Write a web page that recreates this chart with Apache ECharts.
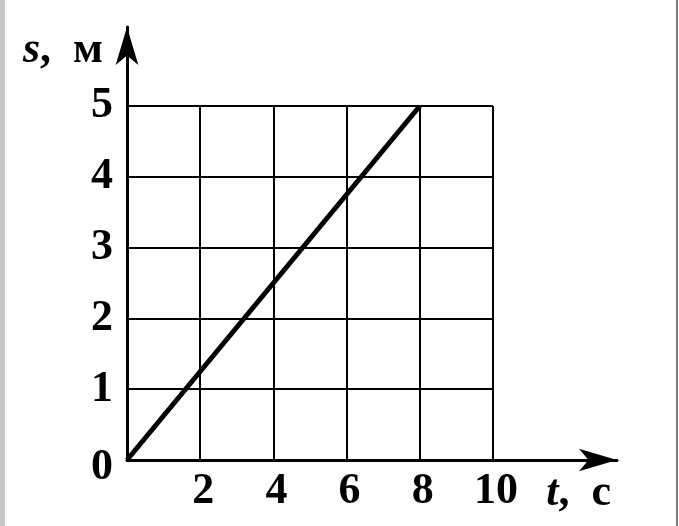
<!DOCTYPE html>
<html>
<head>
<meta charset="utf-8">
<script src="https://cdn.jsdelivr.net/npm/echarts@6/dist/echarts.min.js"></script>
<style>
html,body{margin:0;padding:0;background:#fff;}
#wrap{position:relative;width:679px;height:526px;}
#c{position:absolute;left:0;top:0;width:679px;height:526px;}
#lb{position:absolute;left:0;top:0;width:5px;height:526px;background:#c8c4c8;}
#rb{position:absolute;left:676px;top:0;width:2px;height:526px;background:#7a7a7a;}
</style>
</head>
<body>
<div id="wrap"><div id="c"></div><div id="lb"></div><div id="rb"></div></div>
<script>
// time, s
const tValues = [0, 8];
// distance, m
const sValues = [0, 5];
const xTickMax = 10, xTickStep = 2;
const yTickMax = 5, yTickStep = 1;

const FONT = '"Liberation Serif", "DejaVu Serif", serif';
const FS = 44;
const chart = echarts.init(document.getElementById('c'), null, {renderer: 'canvas'});

const txt = (extra) => Object.assign({fontFamily: FONT, fontWeight: 'bold', fontSize: FS, color: '#000'}, extra || {});

const option = {
  backgroundColor: '#fff',
  animation: false,
  grid: [
    {left: 127, right: 186, top: 106, bottom: 66},
    {left: 127, right: 62, top: 27, bottom: 66}
  ],
  xAxis: [
    {
      gridIndex: 0, type: 'value', min: 0, max: xTickMax, interval: xTickStep,
      axisLine: {show: false}, axisTick: {show: false},
      splitLine: {show: true, lineStyle: {color: '#000', width: 2}},
      axisLabel: Object.assign(txt({margin: 10, padding: [0, 0, 0, 6]}), {
        formatter: v => v === 0 ? '' : String(v)
      })
    },
    {
      gridIndex: 1, type: 'value', min: 0, max: 1,
      axisLine: {show: true, lineStyle: {color: '#000', width: 3}, symbol: ['none', 'arrow'], symbolSize: [17, 38]},
      axisTick: {show: false}, axisLabel: {show: false}, splitLine: {show: false},
      name: '{i|t}{n|,  с}', nameLocation: 'end', nameGap: -6,
      nameTextStyle: {
        align: 'right', verticalAlign: 'top', padding: [12, 0, 0, 0],
        rich: {i: txt({fontStyle: 'italic'}), n: txt()}
      }
    }
  ],
  yAxis: [
    {
      gridIndex: 0, type: 'value', min: 0, max: yTickMax, interval: yTickStep,
      axisLine: {show: false}, axisTick: {show: false},
      splitLine: {show: true, lineStyle: {color: '#000', width: 2}},
      axisLabel: Object.assign(txt({margin: 14}), {
        formatter: v => v === 0 ? '{z|0}' : String(v),
        rich: {z: txt({padding: [16, 0, 0, 0]})}
      })
    },
    {
      gridIndex: 1, type: 'value', min: 0, max: 1,
      axisLine: {show: true, lineStyle: {color: '#000', width: 3}, symbol: ['none', 'arrow'], symbolSize: [17, 38]},
      axisTick: {show: false}, axisLabel: {show: false}, splitLine: {show: false},
      name: '{i|s}{n|,  м}', nameLocation: 'end', nameGap: -24,
      nameTextStyle: {
        align: 'right', verticalAlign: 'middle', padding: [0, 24, 0, 0],
        rich: {i: txt({fontStyle: 'italic'}), n: txt()}
      }
    }
  ],
  series: [
    {
      type: 'line', xAxisIndex: 0, yAxisIndex: 0,
      data: tValues.map((t, i) => [t, sValues[i]]),
      showSymbol: false, symbol: 'none',
      lineStyle: {color: '#000', width: 5},
      z: 5
    }
  ]
};
chart.setOption(option);
</script>
</body>
</html>
